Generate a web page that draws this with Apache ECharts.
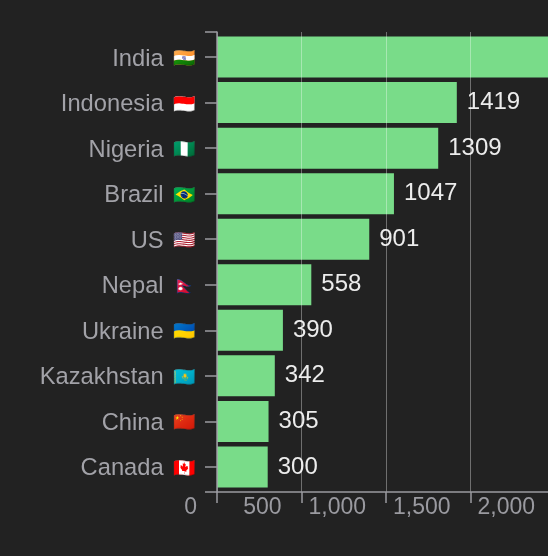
<!DOCTYPE html>
<html>
<head>
<meta charset="utf-8">
<script src="https://cdn.jsdelivr.net/npm/echarts@6/dist/echarts.min.js"></script>
<style>
html,body{margin:0;padding:0;background:#222222;overflow:hidden;}
#c{width:555px;height:556px;}
</style>
</head>
<body>
<div id="c"></div>
<script>
const countries = ["India", "Indonesia", "Nigeria", "Brazil", "US", "Nepal", "Ukraine", "Kazakhstan", "China", "Canada"];
const flags = ["🇮🇳", "🇮🇩", "🇳🇬", "🇧🇷", "🇺🇸", "🇳🇵", "🇺🇦", "🇰🇿", "🇨🇳", "🇨🇦"];
const values = [2100, 1419, 1309, 1047, 901, 558, 390, 342, 305, 300];
const xTicks = [0, 500, 1000, 1500, 2000];

const FONT = '"Liberation Sans", Arial, "Noto Color Emoji", sans-serif';
const AX = '#9a9aa0';
const chart = echarts.init(document.getElementById('c'), null, {renderer: 'canvas'});
const xMin = xTicks[0], xMax = xTicks[xTicks.length - 1];
chart.setOption({
  backgroundColor: '#222222',
  animation: false,
  grid: [
    {left: 217, top: 32, bottom: 64, right: 0},
    {left: 217, top: 34.3, bottom: 66.3, right: 0}
  ],
  xAxis: [{
    type: 'value',
    gridIndex: 0,
    min: xMin, max: xMax, interval: 500,
    z: 5,
    axisLine: {show: true, lineStyle: {color: AX, width: 1.5}},
    axisTick: {show: true, length: 11, lineStyle: {color: AX, width: 1.5}},
    axisLabel: {color: AX, fontSize: 23, fontFamily: FONT, align: 'right', padding: [0, 20, 0, 0], margin: 4},
    splitLine: {show: true, lineStyle: {color: 'rgba(255,255,255,0.35)', width: 1}}
  }, {
    type: 'value',
    gridIndex: 1,
    min: xMin, max: xMax, interval: 500,
    show: false,
    splitLine: {show: false}
  }],
  yAxis: [{
    type: 'value',
    gridIndex: 0,
    position: 'left',
    min: 0, max: 1, interval: 1,
    z: 5,
    axisLine: {show: true, lineStyle: {color: AX, width: 1.5}},
    axisLabel: {show: false},
    splitLine: {show: false},
    axisTick: {show: true, length: 12, lineStyle: {color: AX, width: 1.5}}
  }, {
    type: 'category',
    gridIndex: 1,
    data: countries,
    inverse: true,
    z: 5,
    axisLine: {show: false},
    axisTick: {show: true, alignWithLabel: true, length: 12, lineStyle: {color: AX, width: 1.5}},
    axisLabel: {
      color: '#a2a2a8', fontSize: 23.7, fontFamily: FONT, margin: 21,
      padding: [4, 0, 0, 0],
      formatter: function (v) { return v + '{f|' + flags[countries.indexOf(v)] + '}'; },
      rich: {f: {fontSize: 18, fontFamily: FONT, padding: [0, 0, 0, 10]}}
    }
  }],
  series: [{
    type: 'bar',
    data: values,
    xAxisIndex: 1,
    yAxisIndex: 1,
    barCategoryGap: '10%',
    itemStyle: {color: '#79dc89'},
    label: {show: true, position: 'right', distance: 10, color: '#ececec', fontSize: 24, fontFamily: FONT, padding: [5, 0, 0, 0]}
  }]
});
</script>
</body>
</html>
